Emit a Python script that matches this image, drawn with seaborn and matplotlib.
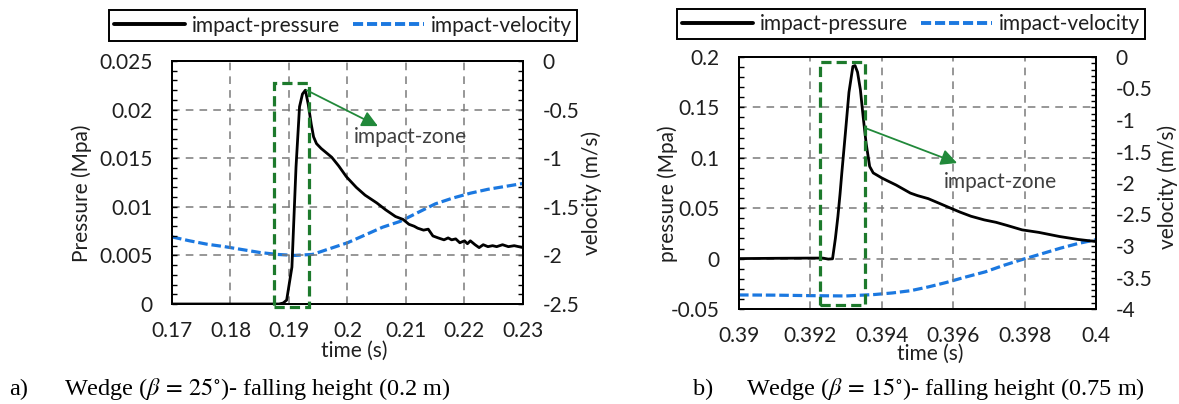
import numpy as np
import pandas as pd
import matplotlib
matplotlib.use("Agg")
import matplotlib.pyplot as plt
import matplotlib.patches as mpatches
from matplotlib.lines import Line2D
from matplotlib.ticker import MultipleLocator, FuncFormatter
import seaborn as sns

# ---------------- data ----------------
# panel a) wedge 25 deg, falling height 0.2 m
t_press_a = [0.17, 0.175, 0.18, 0.185, 0.1883, 0.189, 0.1896, 0.1905, 0.1912, 0.1918,
             0.1923, 0.1928, 0.1933, 0.1938, 0.1942, 0.1947, 0.1955, 0.1965, 0.1973, 0.1985,
             0.1998, 0.2015, 0.203, 0.205, 0.2065, 0.2082, 0.2095, 0.2105, 0.2114, 0.212,
             0.213, 0.2138, 0.2146, 0.2155, 0.2165, 0.2172, 0.2178, 0.2185, 0.2192, 0.22,
             0.2205, 0.221, 0.2218, 0.2225, 0.2232, 0.224, 0.2248, 0.2255, 0.2265, 0.2275,
             0.2285, 0.23]
press_a = [0.0, 0.0, 0.0, 0.0, 0.0, 0.0001, 0.0004, 0.0038, 0.0141, 0.0203,
           0.0216, 0.0220, 0.0205, 0.0185, 0.0172, 0.0165, 0.0160, 0.0155, 0.0151, 0.0142,
           0.0131, 0.0120, 0.0112, 0.0104, 0.0097, 0.0090, 0.0087, 0.0082, 0.0080, 0.0078,
           0.0076, 0.0077, 0.0070, 0.0068, 0.0066, 0.0068, 0.0066, 0.0067, 0.0063, 0.0065,
           0.0062, 0.0065, 0.0061, 0.0058, 0.0061, 0.0059, 0.0060, 0.0059, 0.0061, 0.0059,
           0.0060, 0.0058]
t_vel_a = [0.17, 0.173, 0.176, 0.179, 0.182, 0.185, 0.188, 0.191, 0.194, 0.197, 0.2,
           0.203, 0.206, 0.209, 0.212, 0.215, 0.218, 0.221, 0.224, 0.227, 0.23]
vel_a = [-1.81, -1.85, -1.885, -1.91, -1.94, -1.97, -1.99, -2.0, -1.99, -1.93, -1.87,
         -1.79, -1.71, -1.65, -1.56, -1.47, -1.41, -1.36, -1.32, -1.29, -1.26]
zone_a = [0.1875, 0.1934, -0.0003, 0.0227]          # t0, t1, p0, p1
arrow_a = [0.1930, 0.0220, 0.2052, 0.0183]         # start t, p, end t, p
label_a = [0.2011, 0.0172]

# panel b) wedge 15 deg, falling height 0.75 m
t_press_b = [0.39, 0.391, 0.392, 0.39235, 0.3925, 0.39262, 0.3927, 0.39277, 0.39283, 0.39288,
             0.39298, 0.39308, 0.39319, 0.39325, 0.39332, 0.3934, 0.39348, 0.39356, 0.39366,
             0.39376, 0.394, 0.39414, 0.3944, 0.3946, 0.3948, 0.395, 0.3953, 0.3956, 0.39593,
             0.3962, 0.3965, 0.39687, 0.3972, 0.3975, 0.39793, 0.3984, 0.39898, 0.3995, 0.4]
press_b = [0.0, 0.0003, 0.0005, 0.0005, -0.0005, -0.0002, 0.02, 0.0417, 0.064, 0.085,
           0.1245, 0.165, 0.1907, 0.1915, 0.185, 0.1676, 0.14, 0.1146, 0.0914,
           0.085, 0.080, 0.0775, 0.073, 0.069, 0.065, 0.0625, 0.0595, 0.055, 0.050,
           0.046, 0.042, 0.0384, 0.036, 0.033, 0.0285, 0.026, 0.0219, 0.019, 0.0169]
t_vel_b = [0.39, 0.391, 0.392, 0.393, 0.3938, 0.3943, 0.3948, 0.3953, 0.3958, 0.3963,
           0.3969, 0.3974, 0.3979, 0.3985, 0.399, 0.3995, 0.4]
vel_b = [-3.777, -3.78, -3.788, -3.793, -3.77, -3.745, -3.71, -3.65, -3.58, -3.50,
         -3.41, -3.31, -3.22, -3.12, -3.035, -2.96, -2.90]
zone_b = [0.39227, 0.39354, -0.0457, 0.1946]
arrow_b = [0.39353, 0.1296, 0.39611, 0.0948]
label_b = [0.39574, 0.0756]

legend_labels = ["impact-pressure", "impact-velocity"]
captions = [("a)", r"Wedge ($\beta\,=\,25^{\circ}$)- falling height (0.2 m)"),
            ("b)", r"Wedge ($\beta\,=\,15^{\circ}$)- falling height (0.75 m)")]

# ---------------- style ----------------
sns.set_theme(style="white")
plt.rcParams["font.family"] = ["Lato", "DejaVu Sans"]
plt.rcParams["mathtext.fontset"] = "stix"

BLUE = "#1b78e0"
GREEN = "#1d7a2c"
ARROW_GREEN = "#21893a"
TXT = "#1f1f1f"
FS = 15

fig = plt.figure(figsize=(11.79, 4.04), dpi=100)
fig.patch.set_facecolor("white")

def fmt(v, pos):
    s = ("%.4f" % v).rstrip("0").rstrip(".")
    if s in ("-0", ""):
        s = "0"
    return s


def panel(rect, t_p, p, t_v, v, xlim, xmaj, xmin, ylim, ymaj, ymin, vlim, vmaj, vmin,
          zone, arrow, label, ylab, ylab_pos, vlab_pos, xlab_pos, leg_center):
    ax = fig.add_axes(rect)
    ax2 = ax.twinx()
    ax.set_zorder(2)
    ax.patch.set_visible(False)

    sns.lineplot(x=t_p, y=p, ax=ax, color="black", lw=2.0, estimator=None, sort=False,
                 zorder=5)
    sns.lineplot(x=t_v, y=v, ax=ax2, color=BLUE, lw=2.3, estimator=None, sort=False,
                 linestyle=(0, (3, 1.2)))

    ax.set_xlim(*xlim)
    ax.set_ylim(*ylim)
    ax2.set_ylim(*vlim)
    ax.xaxis.set_major_locator(MultipleLocator(xmaj))
    ax.xaxis.set_minor_locator(MultipleLocator(xmin))
    ax.yaxis.set_major_locator(MultipleLocator(ymaj))
    ax.yaxis.set_minor_locator(MultipleLocator(ymin))
    ax2.yaxis.set_major_locator(MultipleLocator(vmaj))
    ax2.yaxis.set_minor_locator(MultipleLocator(vmin))
    ax.xaxis.set_major_formatter(FuncFormatter(fmt))
    ax.yaxis.set_major_formatter(FuncFormatter(fmt))
    ax2.yaxis.set_major_formatter(FuncFormatter(fmt))

    ax.grid(True, which="major", color="#7a7a7a", lw=1.1, linestyle=(0, (5, 4)))
    ax2.grid(False)

    for a in (ax, ax2):
        for s in a.spines.values():
            s.set_color("black")
            s.set_linewidth(1.4)
    ax.tick_params(axis="both", which="both", direction="in", length=3.5, width=1.0,
                   color="black", labelsize=FS, labelcolor=TXT)
    ax.tick_params(axis="y", pad=14)
    ax.tick_params(axis="x", pad=12)
    ax.tick_params(axis="y", which="both", right=False)
    ax2.tick_params(axis="y", which="both", direction="in", length=3.5, width=1.0,
                    color="black", labelsize=FS, labelcolor=TXT, pad=14)

    # impact zone
    ax.add_patch(mpatches.Rectangle((zone[0], zone[2]), zone[1] - zone[0], zone[3] - zone[2],
                                    fill=False, edgecolor=GREEN, lw=2.3,
                                    linestyle=(0, (3.2, 1.6)), zorder=6, clip_on=False))
    ax.annotate("", xy=(arrow[2], arrow[3]), xytext=(arrow[0], arrow[1]),
                arrowprops=dict(arrowstyle="-|>", color=ARROW_GREEN, lw=1.3,
                                mutation_scale=24, shrinkA=0, shrinkB=0), zorder=7)
    ax.text(label[0], label[1], "impact-zone", fontsize=FS, color="#404040",
            ha="left", va="center", zorder=7)

    ax.set_xlabel("time (s)", fontsize=FS, color=TXT)
    ax.set_ylabel(ylab, fontsize=FS, color=TXT)
    ax2.set_ylabel("velocity (m/s)", fontsize=FS, color=TXT)
    ax.xaxis.set_label_coords(*xlab_pos)
    ax.yaxis.set_label_coords(*ylab_pos)
    ax2.yaxis.set_label_coords(*vlab_pos)

    handles = [Line2D([], [], color="black", lw=2.8),
               Line2D([], [], color=BLUE, lw=2.8, linestyle=(0, (2.6, 1.0)))]
    leg = fig.legend(handles, legend_labels, loc="center", bbox_to_anchor=leg_center,
                     bbox_transform=fig.transFigure, ncol=2, fontsize=FS,
                     frameon=True, fancybox=False, framealpha=1, edgecolor="black",
                     handlelength=3.4, handletextpad=0.35, columnspacing=0.6,
                     borderpad=0.25, labelcolor=TXT)
    leg.get_frame().set_linewidth(1.4)
    return ax, ax2


W, H = 1179.0, 404.0

def frect(x0, x1, y0, y1):
    return [x0 / W, 1 - y1 / H, (x1 - x0) / W, (y1 - y0) / H]

panel(frect(172, 523, 61, 304), t_press_a, press_a, t_vel_a, vel_a,
      (0.17, 0.23), 0.01, 0.002, (0, 0.025), 0.005, 0.001, (-2.5, 0), 0.5, 0.1,
      zone_a, arrow_a, label_a, "Pressure (Mpa)",
      (-0.228, 0.457), (1.167, 0.457), (0.518, -0.150), (343 / W, 1 - 25.5 / H))

panel(frect(739, 1096, 57, 309), t_press_b, press_b, t_vel_b, vel_b,
      (0.39, 0.4), 0.002, 0.0004, (-0.05, 0.2), 0.05, 0.01, (-4, 0), 0.5, 0.1,
      zone_b, arrow_b, label_b, "pressure (Mpa)",
      (-0.171, 0.457), (1.172, 0.485), (0.535, -0.138), (911 / W, 1 - 24 / H))

# captions
for (tag, cap), xa, xb in zip(captions, (9, 693), (64, 746)):
    fig.text(xa / W, 1 - 389 / H, tag, fontsize=17.5, family="Liberation Serif",
             ha="left", va="center", color="black")
    fig.text(xb / W, 1 - 389 / H, cap, fontsize=17.5, family="Liberation Serif",
             ha="left", va="center", color="black")

fig.savefig("out.png", dpi=100, facecolor="white")
